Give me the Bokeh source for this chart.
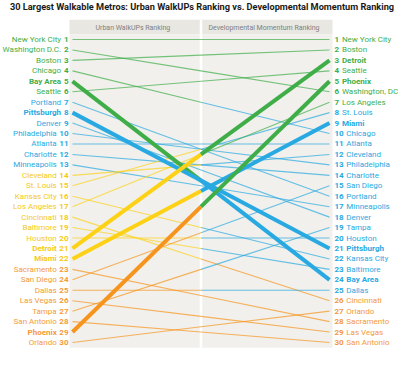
from bokeh.plotting import figure
from bokeh.models import Range1d, Label, ColumnDataSource
from bokeh.core.properties import value
from bokeh.embed import file_html
from bokeh.resources import INLINE

# ---------------- data ----------------
left_cities = ["New York City", "Washington D.C.", "Boston", "Chicago", "Bay Area", "Seattle",
               "Portland", "Pittsburgh", "Denver", "Philadelphia", "Atlanta", "Charlotte",
               "Minneapolis", "Cleveland", "St. Louis", "Kansas City", "Los Angeles", "Cincinnati",
               "Baltimore", "Houston", "Detroit", "Miami", "Sacramento", "San Diego", "Dallas",
               "Las Vegas", "Tampa", "San Antonio", "Phoenix", "Orlando"]
left_ranks = list(range(1, 31))
# Developmental momentum rank of each city above (same order)
right_of_left = [1, 6, 2, 10, 24, 4, 16, 21, 18, 13, 11, 14, 17, 12, 8, 22, 7, 26, 23, 20,
                 3, 9, 28, 15, 25, 29, 19, 30, 5, 27]
right_cities = ["New York City", "Boston", "Detroit", "Seattle", "Phoenix", "Washington, DC",
                "Los Angeles", "St. Louis", "Miami", "Chicago", "Atlanta", "Cleveland",
                "Philadelphia", "Charlotte", "San Diego", "Portland", "Minneapolis", "Denver",
                "Tampa", "Houston", "Pittsburgh", "Kansas City", "Baltimore", "Bay Area", "Dallas",
                "Cincinnati", "Orlando", "Sacramento", "Las Vegas", "San Antonio"]
right_ranks = list(range(1, 31))
highlighted = ["Bay Area", "Pittsburgh", "Detroit", "Miami", "Phoenix"]

# tier upper bounds (rank) -> colour
left_tiers = [(6, "green"), (13, "blue"), (22, "yellow"), (30, "orange")]
right_tiers = [(7, "green"), (25, "blue"), (30, "orange")]
palette = {"green": "#3fae49", "blue": "#29a9e1", "yellow": "#fcd116", "orange": "#f7941d"}
label_palette = {"green": "#3fae49", "blue": "#29a9e1", "yellow": "#f6c915", "orange": "#f49a3a"}

title_text = "30 Largest Walkable Metros: Urban WalkUPs Ranking vs. Developmental Momentum Ranking"
left_header = "Urban WalkUPs Ranking"
right_header = "Developmental Momentum Ranking"


def tier(rank, tiers):
    for hi, c in tiers:
        if rank <= hi:
            return c
    return tiers[-1][1]


# ---------------- figure ----------------
W, H = 403, 350
XL, XR = 72, 329          # pixel x of line ends
Y1, Y30 = 39, 342         # pixel y of rank 1 and rank 30
pxx = XR - XL
pxy = (Y30 - Y1) / 29.0
top_rank = 1 - Y1 / pxy
bot_rank = top_rank + H / pxy

p = figure(width=W, height=H, output_backend="svg", toolbar_location=None,
           x_range=Range1d(-XL / pxx, (W - XL) / pxx),
           y_range=Range1d(bot_rank, top_rank),
           x_axis_type=None, y_axis_type=None, min_border=0,
           outline_line_color=None, background_fill_color="white", border_fill_color="white")
p.grid.visible = False

FONT = "Roboto"

pl, pr = -3 / pxx, 1 + 3 / pxx
p.quad(left=pl, right=pr, top=-0.9, bottom=0.5, fill_color="#e8e7e2", line_color=None)
p.quad(left=pl, right=pr, top=0.5, bottom=30.5, fill_color="#f1f0ec", line_color=None)
p.segment(x0=[0.5], y0=[-0.9], x1=[0.5], y1=[30.5], line_color="white", line_width=2.5)

p.text(x=[0.235, 0.745], y=[-0.1, -0.1], text=[left_header, right_header],
       text_font=value(FONT), text_font_size="7px", text_color="#808080",
       text_align="center", text_baseline="middle")

# ---------------- lines ----------------
def seg_source(thick):
    d = dict(x0=[], y0=[], x1=[], y1=[], c=[])
    for name, l, r in zip(left_cities, left_ranks, right_of_left):
        if (name in highlighted) != thick:
            continue
        m = (l + r) / 2.0
        d["x0"] += [0, 0.5]
        d["y0"] += [l, m]
        d["x1"] += [0.5, 1]
        d["y1"] += [m, r]
        d["c"] += [palette[tier(l, left_tiers)], palette[tier(r, right_tiers)]]
    return ColumnDataSource(d)

p.segment("x0", "y0", "x1", "y1", source=seg_source(False), line_color="c",
          line_width=1.1, line_alpha=0.7)
p.segment("x0", "y0", "x1", "y1", source=seg_source(True), line_color="c",
          line_width=4, line_alpha=1.0)

# ---------------- labels ----------------
DIG = 4.4
def label_source(names, ranks, tiers, side):
    d = dict(x=[], y=[], name=[], num=[], c=[], st=[], noff=[], xo=[])
    for n, r in zip(names, ranks):
        nd = len(str(r))
        d["x"].append(0 if side == "left" else 1)
        d["y"].append(r)
        d["name"].append(n)
        d["num"].append(str(r))
        d["c"].append(label_palette[tier(r, tiers)])
        d["st"].append("bold" if n in highlighted else "normal")
        if side == "left":
            d["xo"].append(-4)
            d["noff"].append(-4 - nd * DIG - 3)
        else:
            d["xo"].append(5)
            d["noff"].append(5 + nd * DIG + 3)
    return ColumnDataSource(d)

ls = label_source(left_cities, left_ranks, left_tiers, "left")
rs = label_source(right_cities, right_ranks, right_tiers, "right")
for src, al in ((ls, "right"), (rs, "left")):
    p.text(x="x", y="y", text="num", source=src, x_offset="xo", text_color="c",
           text_font=value(FONT), text_font_style="bold", text_font_size="8px",
           text_align=al, text_baseline="middle")
    p.text(x="x", y="y", text="name", source=src, x_offset="noff", text_color="c",
           text_font=value(FONT), text_font_style="st", text_font_size="8px",
           text_align=al, text_baseline="middle")

p.add_layout(Label(x=W / 2, y=H - 6, x_units="screen", y_units="screen", text=title_text,
                   text_font=FONT, text_font_style="bold", text_font_size="9.2px",
                   text_color="#1a1a1a", text_align="center", text_baseline="middle"))

open("out.html", "w").write(file_html(p, INLINE))
